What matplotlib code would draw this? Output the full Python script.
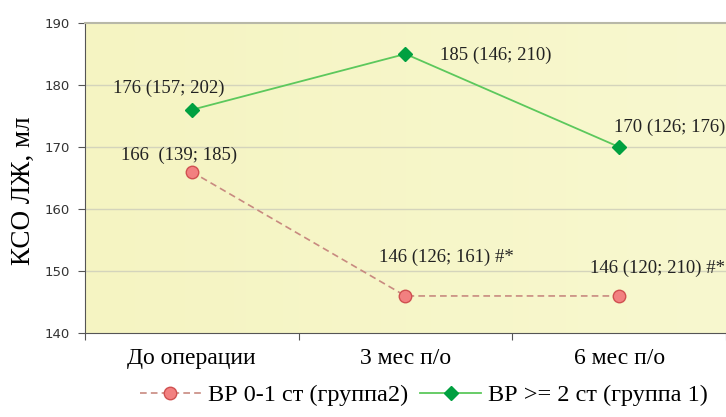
import numpy as np
import matplotlib.pyplot as plt
from matplotlib.lines import Line2D
from matplotlib.colors import LinearSegmentedColormap

# data
categories = ['До операции', '3 мес п/о', '6 мес п/о']
group2_vals = [166, 146, 146]
group1_vals = [176, 185, 170]
group2_labels = ['166  (139; 185)', '146 (126; 161) #*', '146 (120; 210) #*']
group1_labels = ['176 (157; 202)', '185 (146; 210)', '170 (126; 176)']
yticks = [140, 150, 160, 170, 180, 190]

serif = 'Liberation Serif'

fig = plt.figure(figsize=(7.26, 4.17), dpi=100)
ax = fig.add_axes([0.117, 0.201, 0.883, 0.744])

# pale yellow plot area
grad = np.linspace(0, 1, 256).reshape(1, -1)
cmap = LinearSegmentedColormap.from_list('bg', ['#f5f4c2', '#f8f8cf'])
ax.imshow(grad, cmap=cmap, aspect='auto', extent=[-0.5, 2.5, 140, 190],
          zorder=0)

x = np.arange(len(categories))
ax.plot(x, group2_vals, linestyle=(0, (4, 2.5)), color='#c88a80', lw=1.2,
        marker='o', ms=9, mfc='#f28080', mec='#d05050', mew=1, zorder=3)
ax.plot(x, group1_vals, linestyle='-', color='#5cc85c', lw=1.3,
        marker='D', ms=7, mfc='#00a040', mec='#00a040', zorder=3)

ax.set_xlim(-0.5, 2.5)
ax.set_ylim(140, 190)
ax.set_yticks(yticks)
ax.set_xticks([-0.5, 0.5, 1.5, 2.5])
ax.set_xticklabels([])
ax.set_xticks(x, minor=True)
ax.set_xticklabels(categories, minor=True, fontfamily=serif, fontsize=17)
ax.tick_params(axis='x', which='minor', length=0, pad=11)
ax.tick_params(axis='x', which='major', length=5, color='#555555')
ax.tick_params(axis='y', labelsize=9.5, length=5, color='#555555', pad=6)
for lbl in ax.get_yticklabels():
    lbl.set_color('#333333')

for yv in yticks[1:-1]:
    ax.axhline(yv, color='#d4d4bc', lw=1.0, zorder=1)

ax.spines['right'].set_visible(False)
ax.spines['top'].set_color('#b8b8a8')
ax.spines['top'].set_linewidth(1.5)
ax.spines['left'].set_color('#555555')
ax.spines['bottom'].set_color('#555555')

ax.set_ylabel('КСО ЛЖ, мл', fontfamily=serif, fontsize=19.5)
ax.yaxis.set_label_coords(-0.076, 0.458)

# annotations
ann_kw = dict(fontfamily=serif, fontsize=13.5, color='#222222', zorder=4,
              va='center')
ax.text(x[0] - 0.11, group1_vals[0] + 3.5, group1_labels[0], ha='center', **ann_kw)
ax.text(x[1] + 0.16, group1_vals[1] - 0.2, group1_labels[1], ha='left', **ann_kw)
ax.text(x[2] + 0.495, group1_vals[2] + 3.1, group1_labels[2], ha='right', **ann_kw)
ax.text(x[0] - 0.06, group2_vals[0] + 2.7, group2_labels[0], ha='center', **ann_kw)
ax.text(x[1] + 0.19, group2_vals[1] + 6.3, group2_labels[1], ha='center', **ann_kw)
ax.text(x[2] + 0.495, group2_vals[2] + 4.5, group2_labels[2], ha='right', **ann_kw)

handles = [
    Line2D([], [], linestyle=(0, (4, 2.5)), color='#c88a80', lw=1.2,
           marker='o', ms=9, mfc='#f28080', mec='#d05050'),
    Line2D([], [], linestyle='-', color='#5cc85c', lw=1.3,
           marker='D', ms=7, mfc='#00a040', mec='#00a040'),
]
fig.legend(handles, ['ВР 0-1 ст (группа2)', 'ВР >= 2 ст (группа 1)'],
           loc='center', bbox_to_anchor=(0.584, 0.052), ncol=2, frameon=False,
           prop={'family': serif, 'size': 17.5}, handlelength=2.5,
           handletextpad=0.3, columnspacing=0.5)

fig.savefig('out.png', dpi=100)
